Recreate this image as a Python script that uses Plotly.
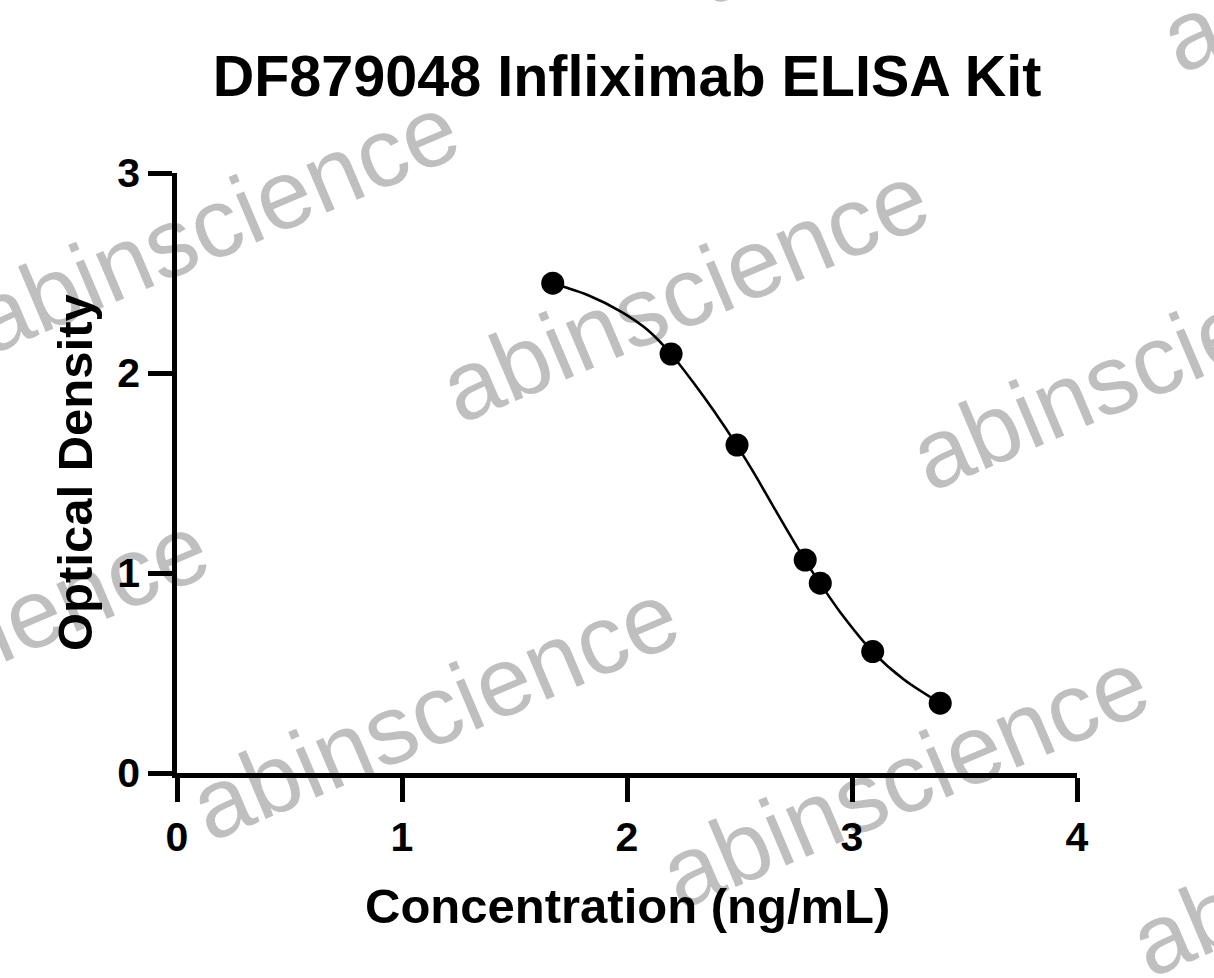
import plotly.graph_objects as go

# standards: log10 concentration vs optical density
conc = [1.670, 2.196, 2.489, 2.792, 2.859, 3.092, 3.392]
od = [2.449, 2.095, 1.640, 1.065, 0.949, 0.607, 0.349]

# fitted curve
curve_x = [1.670, 1.825, 1.973, 2.092, 2.196, 2.299, 2.388, 2.489,
           2.566, 2.655, 2.792, 2.859, 2.951, 3.092, 3.232, 3.392]
curve_y = [2.449, 2.390, 2.307, 2.215, 2.095, 1.946, 1.807, 1.637,
           1.497, 1.323, 1.062, 0.947, 0.799, 0.606, 0.466, 0.349]

x_ticks = [0, 1, 2, 3, 4]
y_ticks = [0, 1, 2, 3]

W, H = 1214, 978
L, R, T, B = 177, 137, 173, 205
FONT = "Liberation Sans, Arial, sans-serif"

fig = go.Figure()
fig.add_trace(go.Scatter(x=curve_x, y=curve_y, mode="lines",
                         line=dict(color="black", width=2.6, shape="spline", smoothing=0.8),
                         hoverinfo="skip", showlegend=False))
fig.add_trace(go.Scatter(x=conc, y=od, mode="markers",
                         marker=dict(color="black", size=23, line=dict(width=0)),
                         showlegend=False))

axis_common = dict(showline=True, linewidth=4.5, linecolor="black", ticks="outside",
                   ticklen=24, tickwidth=4.5, tickcolor="black", showgrid=False,
                   zeroline=False, mirror=False,
                   tickfont=dict(family=FONT, size=41, color="black", weight="bold"))
fig.update_xaxes(range=[0, 4], tickvals=x_ticks, **axis_common)
fig.update_yaxes(range=[0, 3], tickvals=y_ticks, **axis_common)

# watermark tiles (pixel centres), drawn under the chart
wm_px = [(211, 215), (681, 284), (1151, 352), (-39, 634), (431, 702),
         (901, 770), (1371, 838), (931, -134), (1401, -66)]
pw, ph = W - L - R, H - T - B
shapes = []
for px, py in wm_px:
    cx = (px - L) / pw
    cy = (H - B - py) / ph
    shapes.append(dict(type="rect", xref="paper", yref="paper",
                       x0=cx - 0.01, x1=cx + 0.01, y0=cy - 0.01, y1=cy + 0.01,
                       line=dict(width=0), fillcolor="rgba(0,0,0,0)", layer="below",
                       label=dict(text="abinscience", textangle=-23,
                                  textposition="middle center",
                                  font=dict(family=FONT, size=98, color="#bfbfbf"))))

fig.update_layout(
    width=W, height=H,
    margin=dict(l=L, r=R, t=T, b=B),
    paper_bgcolor="white", plot_bgcolor="white",
    shapes=shapes,
    title=dict(text="DF879048 Infliximab ELISA Kit", x=0.5, xref="paper",
               y=1 - 76 / H, yref="container", yanchor="middle", xanchor="center",
               font=dict(family=FONT, size=57.5, color="black", weight="bold")),
    annotations=[
        dict(text="Concentration (ng/mL)", xref="paper", yref="paper", x=0.5,
             y=-(906 - (H - B)) / ph, xanchor="center", yanchor="middle", showarrow=False,
             font=dict(family=FONT, size=49, color="black", weight="bold")),
        dict(text="Optical Density", xref="paper", yref="paper",
             x=-(L - 75) / pw, y=0.5, textangle=-90, xanchor="center", yanchor="middle",
             showarrow=False, font=dict(family=FONT, size=49, color="black", weight="bold")),
    ],
)

fig.write_html("out.html", config={"displayModeBar": False},
               post_script="document.body.style.margin='0';document.body.style.overflow='hidden';")
